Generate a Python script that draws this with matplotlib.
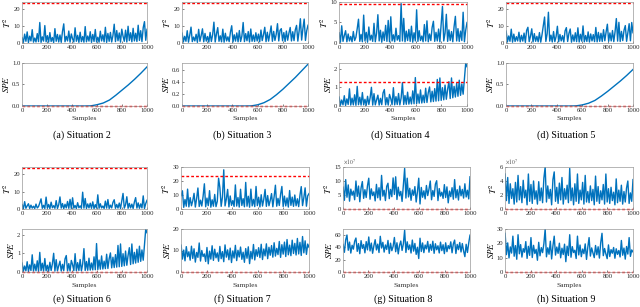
import numpy as np
import matplotlib
matplotlib.use("Agg")
import matplotlib.pyplot as plt

plt.rcParams['font.family'] = ['Liberation Serif', 'DejaVu Serif']
plt.rcParams['mathtext.fontset'] = 'stix'

# ---- data (one value per 10 samples) ----
captions = ["(a) Situation 2", "(b) Situation 3", "(d) Situation 4", "(d) Situation 5",
            "(e) Situation 6", "(f) Situation 7", "(g) Situation 8", "(h) Situation 9"]

t2_s2 = [3.1, 0.4, 5.2, 1.0, 6.5, 0.3, 4.0, 1.2, 7.8, 0.5,
         2.9, 0.6, 5.5, 0.8, 12.0, 0.4, 3.6, 1.1, 10.2, 0.7,
         4.3, 0.5, 6.1, 0.9, 3.2, 0.3, 8.4, 1.0, 5.0, 0.6,
         4.7, 0.4, 6.8, 11.2, 0.7, 3.9, 1.2, 7.0, 0.5, 5.3,
         2.4, 0.6, 8.9, 1.0, 4.5, 0.4, 6.3, 0.8, 3.8, 0.5,
         9.6, 0.7, 4.1, 1.1, 6.6, 0.4, 5.0, 0.9, 7.9, 0.6,
         3.4, 0.5, 6.9, 1.2, 4.8, 0.7, 9.2, 0.4, 5.6, 1.0,
         6.2, 0.6, 4.4, 11.0, 0.8, 7.3, 1.3, 5.9, 0.5, 8.1,
         4.0, 1.0, 7.5, 0.6, 9.8, 1.4, 6.0, 0.7, 8.6, 1.2,
         5.7, 0.9, 10.4, 1.5, 7.2, 0.8, 9.0, 12.5, 1.6, 8.0]

t2_s3 = [5.8, 0.6, 3.9, 1.0, 7.2, 0.5, 4.6, 9.3, 0.8, 3.5,
         1.2, 5.1, 0.4, 8.0, 1.0, 4.4, 8.3, 0.7, 5.6, 1.1,
         3.8, 0.5, 6.2, 0.9, 4.9, 12.2, 0.6, 5.3, 9.0, 1.0,
         4.2, 0.7, 8.1, 0.5, 5.7, 1.2, 3.6, 0.8, 6.4, 10.1,
         0.6, 4.8, 1.1, 5.9, 0.7, 7.3, 0.9, 4.1, 12.0, 0.8,
         5.5, 1.3, 6.7, 0.6, 8.2, 1.0, 4.7, 0.9, 6.0, 1.2,
         5.2, 0.7, 7.6, 1.4, 4.9, 9.2, 0.8, 6.3, 1.1, 5.4,
         10.0, 1.0, 6.8, 1.5, 5.1, 11.3, 1.2, 7.4, 8.4, 1.3,
         6.1, 0.9, 7.0, 1.6, 5.8, 9.1, 1.2, 6.6, 1.4, 7.7,
         10.3, 1.1, 6.9, 14.2, 1.7, 8.5, 14.0, 1.5, 7.2, 10.4]

t2_s4 = [2.5, 0.2, 4.2, 0.4, 1.8, 3.0, 0.3, 2.2, 0.5, 1.6,
         0.3, 2.8, 0.6, 1.4, 3.5, 5.8, 0.4, 2.1, 0.3, 6.8,
         0.5, 2.6, 0.2, 3.9, 0.7, 1.9, 0.4, 4.8, 0.3, 2.4,
         6.9, 0.5, 3.1, 0.2, 2.7, 0.6, 4.3, 0.4, 5.5, 0.3,
         6.4, 0.5, 2.0, 0.3, 3.6, 0.7, 1.8, 0.4, 9.6, 0.5,
         6.0, 0.3, 2.9, 0.6, 3.3, 0.4, 4.1, 0.2, 2.5, 0.5,
         8.1, 0.4, 3.0, 0.6, 1.7, 0.3, 4.5, 0.5, 5.4, 0.3,
         2.2, 0.6, 3.8, 5.3, 0.4, 2.6, 0.5, 3.4, 0.3, 4.6,
         8.9, 0.5, 2.4, 7.0, 0.4, 3.2, 0.6, 2.8, 0.3, 4.0,
         6.5, 0.5, 3.5, 0.4, 2.9, 0.6, 7.5, 0.3, 3.1, 5.0]

t2_s5 = [7.0, 0.6, 4.1, 1.0, 8.1, 0.5, 5.2, 0.9, 3.7, 1.2,
         6.3, 0.7, 4.5, 1.1, 5.8, 0.4, 7.4, 9.2, 0.8, 4.0,
         8.3, 0.6, 5.5, 1.0, 3.9, 0.7, 6.1, 0.5, 4.8, 10.1,
         15.2, 0.9, 5.4, 18.0, 1.1, 4.6, 0.6, 6.7, 0.8, 3.8,
         9.8, 0.7, 5.0, 1.2, 4.3, 0.6, 7.1, 9.0, 0.9, 5.6,
         8.2, 0.5, 4.7, 1.0, 6.0, 0.8, 8.9, 0.6, 5.1, 1.1,
         10.0, 0.7, 4.4, 0.9, 6.5, 0.6, 5.3, 1.2, 4.9, 0.8,
         9.1, 0.7, 6.2, 1.0, 5.7, 0.9, 7.8, 1.3, 6.4, 11.0,
         1.0, 5.9, 1.2, 7.3, 0.8, 6.6, 14.3, 1.1, 12.1, 0.9,
         6.8, 1.4, 7.5, 10.2, 1.0, 6.1, 11.3, 1.3, 12.0, 6.0]

t2_s6 = t2_s4  # same statistic as situation 4

t2_s7 = [9.5, 13.0, 1.2, 6.8, 2.0, 14.2, 1.5, 8.1, 2.3, 5.9,
         11.2, 1.4, 7.5, 15.0, 1.8, 6.3, 2.1, 9.0, 18.0, 1.6,
         7.8, 2.4, 13.1, 1.3, 6.6, 2.0, 10.4, 1.7, 5.5, 22.0,
         15.2, 1.9, 8.6, 28.0, 2.2, 7.1, 14.0, 1.5, 9.3, 2.6,
         6.0, 1.8, 17.2, 2.1, 8.2, 1.4, 14.1, 2.5, 7.4, 1.6,
         19.0, 2.0, 9.1, 1.3, 14.2, 2.2, 6.9, 1.7, 16.1, 2.4,
         8.4, 1.5, 10.2, 2.1, 7.0, 14.0, 1.9, 9.6, 2.3, 6.2,
         11.0, 1.6, 8.8, 17.0, 2.0, 7.6, 2.5, 10.5, 16.1, 1.8,
         9.2, 2.2, 7.9, 1.4, 13.2, 2.6, 8.5, 1.9, 10.0, 2.3,
         7.3, 1.7, 9.8, 16.0, 2.4, 8.1, 15.1, 2.0, 9.4, 11.0]

# situation 8 and 9 T2 in units of 1e7
t2_s8 = [7.8, 3.1, 10.5, 4.2, 8.6, 2.8, 7.1, 4.9, 6.4, 3.3,
         10.0, 4.5, 8.2, 2.6, 7.5, 9.8, 3.8, 6.9, 4.1, 8.3,
         11.0, 3.5, 7.2, 4.8, 6.1, 2.9, 8.8, 4.0, 7.6, 3.2,
         12.0, 4.6, 6.7, 3.0, 8.1, 9.2, 3.7, 7.0, 4.4, 11.1,
         5.2, 11.5, 3.4, 7.8, 4.7, 6.3, 2.7, 8.5, 14.5, 3.9,
         11.0, 4.3, 7.4, 3.1, 6.8, 4.9, 8.0, 2.5, 6.2, 11.0,
         1.8, 7.7, 4.2, 6.5, 3.6, 8.4, 4.8, 7.1, 10.0, 3.3,
         6.6, 4.5, 8.9, 10.1, 3.0, 7.3, 4.6, 6.0, 3.8, 8.7,
         4.1, 7.9, 2.2, 6.4, 4.4, 7.6, 3.5, 10.5, 4.0, 6.9,
         3.2, 8.2, 4.7, 7.0, 3.9, 9.0, 4.3, 6.7, 3.6, 11.5]

t2_s9 = [5.0, 1.2, 4.5, 0.8, 3.6, 1.5, 2.9, 0.7, 3.8, 1.0,
         4.8, 1.3, 3.2, 0.9, 4.1, 1.6, 2.7, 0.6, 5.0, 1.1,
         3.5, 0.8, 4.0, 1.4, 2.6, 0.7, 3.9, 1.2, 3.0, 0.9,
         4.4, 6.0, 1.0, 3.3, 1.5, 2.8, 0.6, 4.2, 5.3, 1.1,
         3.1, 0.8, 3.7, 1.3, 4.5, 0.7, 2.9, 1.4, 3.4, 0.9,
         5.8, 1.2, 3.0, 0.6, 3.6, 1.1, 5.0, 0.8, 2.7, 1.3,
         3.8, 0.7, 4.8, 1.0, 2.5, 0.9, 3.3, 1.2, 2.8, 0.6,
         4.7, 1.1, 3.2, 0.8, 2.6, 1.3, 3.5, 0.7, 5.0, 1.0,
         2.9, 0.8, 3.1, 1.2, 2.4, 0.6, 4.3, 0.9, 2.7, 1.1,
         3.4, 0.7, 2.5, 1.0, 3.0, 4.0, 0.8, 2.3, 1.1, 4.2]

# smooth SPE curves, one value per 50 samples
spe_s2 = [0, 0, 0, 0, 0, 0, 0, 0, 0, 0, 0, 0.003,
          0.03, 0.07, 0.14, 0.25, 0.37, 0.49, 0.62, 0.76, 0.91]
spe_s3 = [0, 0, 0, 0, 0, 0, 0, 0, 0, 0, 0, 0.002,
          0.02, 0.055, 0.11, 0.19, 0.28, 0.38, 0.48, 0.59, 0.70]
spe_s5 = [0, 0, 0, 0, 0, 0, 0, 0, 0, 0, 0, 0.003,
          0.025, 0.065, 0.13, 0.23, 0.34, 0.46, 0.58, 0.71, 0.85]

spe_s4 = [0.48, 0.04, 0.32, 0.06, 0.55, 0.03, 0.38, 0.08, 0.92, 0.05,
          0.42, 0.06, 0.60, 0.04, 1.05, 0.07, 0.47, 0.05, 0.72, 0.06,
          0.36, 0.04, 0.52, 0.08, 0.44, 1.00, 0.05, 0.66, 0.06, 0.33,
          0.58, 0.05, 0.41, 0.07, 0.70, 0.88, 0.06, 0.45, 0.05, 0.62,
          0.39, 0.07, 0.98, 0.06, 0.50, 0.08, 0.67, 0.06, 0.43, 1.25,
          0.08, 0.56, 0.09, 0.74, 0.10, 0.48, 0.11, 0.81, 0.12, 1.52,
          0.13, 0.64, 0.15, 0.86, 0.16, 0.58, 0.18, 0.95, 0.19, 0.71,
          1.02, 0.22, 0.79, 0.24, 0.93, 0.26, 1.42, 0.28, 1.50, 0.30,
          0.98, 0.33, 1.12, 0.36, 0.89, 1.30, 0.40, 1.50, 0.44, 1.05,
          0.48, 1.22, 0.52, 1.38, 0.57, 1.18, 0.63, 1.45, 2.30, 2.10]
spe_s6 = spe_s4

spe_s7 = [12.5, 6.0, 10.2, 5.2, 11.8, 7.1, 9.4, 5.5, 12.0, 6.3,
          10.8, 4.6, 9.1, 6.8, 13.5, 5.1, 10.0, 7.2, 8.4, 4.9,
          11.4, 3.8, 9.7, 6.0, 12.2, 5.4, 10.6, 6.6, 8.9, 5.0,
          11.9, 6.2, 9.5, 4.8, 12.6, 6.9, 10.3, 5.7, 11.1, 4.4,
          9.8, 6.5, 12.4, 5.3, 10.1, 7.0, 11.6, 5.9, 9.2, 4.5,
          10.9, 6.4, 11.7, 3.9, 9.6, 6.1, 12.8, 5.6, 10.4, 7.3,
          11.3, 6.7, 12.9, 5.8, 10.7, 7.5, 13.1, 6.2, 11.5, 7.8,
          12.3, 6.9, 13.6, 7.4, 11.0, 8.1, 14.2, 6.8, 12.7, 8.3,
          13.9, 7.2, 15.1, 8.0, 12.5, 7.6, 14.8, 8.6, 13.3, 7.9,
          15.6, 8.4, 13.8, 7.7, 16.5, 8.9, 14.5, 8.2, 13.0, 11.5]

spe_s8 = [45.0, 32.1, 52.3, 60.2, 35.4, 48.7, 30.8, 43.5, 37.2, 50.1,
          55.3, 33.6, 46.2, 29.8, 51.0, 38.4, 44.7, 31.2, 49.5, 36.0,
          57.0, 34.3, 47.1, 30.5, 42.8, 52.6, 35.9, 45.4, 31.7, 58.1,
          39.0, 48.3, 32.4, 44.0, 36.8, 51.4, 30.2, 46.9, 34.7, 41.5,
          56.2, 33.0, 47.6, 29.5, 43.3, 50.4, 35.1, 45.8, 68.0, 31.9,
          49.2, 36.5, 44.1, 30.9, 52.0, 34.0, 46.5, 28.7, 40.3, 22.0,
          55.0, 33.4, 47.3, 31.5, 43.9, 37.6, 49.8, 32.2, 45.0, 35.3,
          50.1, 30.4, 46.0, 36.2, 42.7, 31.0, 48.6, 34.8, 44.4, 29.9,
          47.5, 33.1, 43.0, 37.9, 49.1, 31.3, 45.7, 52.0, 30.1, 44.9,
          36.4, 48.0, 32.6, 46.3, 34.2, 25.0, 45.1, 31.8, 47.2, 60.0]

spe_s9 = [27.0, 12.1, 20.3, 9.8, 17.5, 13.2, 25.0, 11.0, 18.4, 8.9,
          26.0, 12.7, 19.1, 10.4, 16.3, 13.8, 21.2, 9.5, 17.9, 11.6,
          24.0, 10.1, 18.6, 12.9, 15.8, 8.2, 20.7, 11.3, 17.0, 13.5,
          19.8, 30.0, 10.6, 16.9, 12.4, 21.5, 9.1, 18.2, 25.0, 11.8,
          17.4, 13.0, 20.1, 9.9, 16.6, 12.2, 19.4, 7.2, 18.0, 11.5,
          26.0, 10.3, 17.7, 13.6, 15.2, 9.4, 25.0, 11.9, 18.8, 10.7,
          16.0, 12.8, 19.6, 8.8, 17.2, 24.0, 11.1, 16.8, 13.3, 10.0,
          18.5, 12.0, 17.6, 9.7, 20.4, 27.0, 11.4, 16.4, 12.6, 9.3,
          18.9, 10.8, 15.6, 13.1, 17.1, 9.6, 16.2, 12.3, 15.0, 10.5,
          22.0, 11.7, 16.7, 9.0, 17.8, 12.5, 24.0, 10.9, 15.4, 14.0]

t2_series = [t2_s2, t2_s3, t2_s4, t2_s5, t2_s6, t2_s7, t2_s8, t2_s9]
spe_series = [spe_s2, spe_s3, spe_s4, spe_s5, spe_s6, spe_s7, spe_s8, spe_s9]
t2_limits = [23.3, 23.3, 9.4, 23.3, 23.3, 23.3, 0.0, 0.0]
spe_limits = [0.0, 0.0, 1.3, 0.0, 0.0, 0.0, 0.0, 0.0]

# ---- axes styling per panel ----
t2_ylim = [(0, 24), (0, 24), (0, 10), (0, 24), (0, 24), (0, 30), (0, 15), (0, 6)]
t2_ticks = [[0, 10, 20], [0, 10, 20], [0, 5, 10], [0, 10, 20], [0, 10, 20],
            [0, 10, 20, 30], [0, 5, 10, 15], [0, 2, 4, 6]]
spe_ylim = [(0, 1), (0, 0.72), (0, 2.3), (0, 1), (0, 2.3), (0, 20), (0, 70), (0, 30)]
spe_ticks = [[0, 0.5, 1], [0, 0.2, 0.4, 0.6], [0, 1, 2], [0, 0.5, 1], [0, 1, 2],
             [0, 10, 20], [0, 20, 40, 60], [0, 10, 20, 30]]
scaled = [False] * 6 + [True, True]

# pixel boxes: (left, right) per panel, (t2 top, t2 bottom, spe top, spe bottom) per row
cols = [(22, 147), (182, 308), (339, 467), (506, 633),
        (22, 147), (181, 309), (343, 470), (505, 633)]
rows = [(2, 43, 63, 106), (167, 209, 229, 272)]
sample_y = [119, 286]
caption_y = [135, 299]

W, H = 640, 307
blue = '#0072BD'
fig = plt.figure(figsize=(W / 100, H / 100), dpi=100)


def box(l, r, top, bot):
    return [l / W, 1 - bot / H, (r - l) / W, (bot - top) / H]


def style(ax, ylim, ticks):
    ax.set_xlim(0, 1000)
    ax.set_ylim(*ylim)
    ax.set_xticks([0, 200, 400, 600, 800, 1000])
    ax.set_yticks(ticks)
    ax.tick_params(direction='in', length=1.5, width=0.4, labelsize=4.8,
                   pad=1.2, colors='0.15')
    for s in ax.spines.values():
        s.set_linewidth(0.5)
        s.set_color('0.6')


for i in range(8):
    l, r = cols[i]
    row = i // 4
    t_top, t_bot, s_top, s_bot = rows[row]

    t2 = np.array(t2_series[i])
    x_t2 = np.linspace(1, 1000, len(t2))
    ax1 = fig.add_axes(box(l, r, t_top, t_bot))
    ax1.plot(x_t2, t2, color=blue, lw=1.0)
    ax1.plot([0, 1000], [t2_limits[i]] * 2, color='#ff0000', lw=1.0,
             ls=(0, (2, 1.5)), clip_on=False)
    style(ax1, t2_ylim[i], t2_ticks[i])
    ax1.set_ylabel(r'$T^2$', fontsize=6.5, labelpad=0.5)
    if scaled[i]:
        ax1.text(0, 1.02, r'$\times10^7$', transform=ax1.transAxes,
                 fontsize=4, va='bottom', ha='left', color='0.3')

    spe = np.array(spe_series[i])
    x_spe = np.linspace(1, 1000, len(spe))
    ax2 = fig.add_axes(box(l, r, s_top, s_bot))
    ax2.plot(x_spe, spe, color=blue, lw=1.0)
    ax2.plot([0, 1000], [spe_limits[i]] * 2, color='#ff0000', lw=1.0,
             ls=(0, (2, 1.5)), clip_on=False)
    style(ax2, spe_ylim[i], spe_ticks[i])
    ax2.set_ylabel(r'$SPE$', fontsize=6.5, labelpad=0.5)

    cx = (l + r) / 2
    fig.text(cx / W, 1 - sample_y[row] / H, 'Samples', fontsize=5.4,
             ha='center', va='center', color='0.2')
    fig.text((cx - 3) / W, 1 - caption_y[row] / H, captions[i], fontsize=7.2,
             ha='center', va='center')

fig.savefig('out.png', dpi=100)
